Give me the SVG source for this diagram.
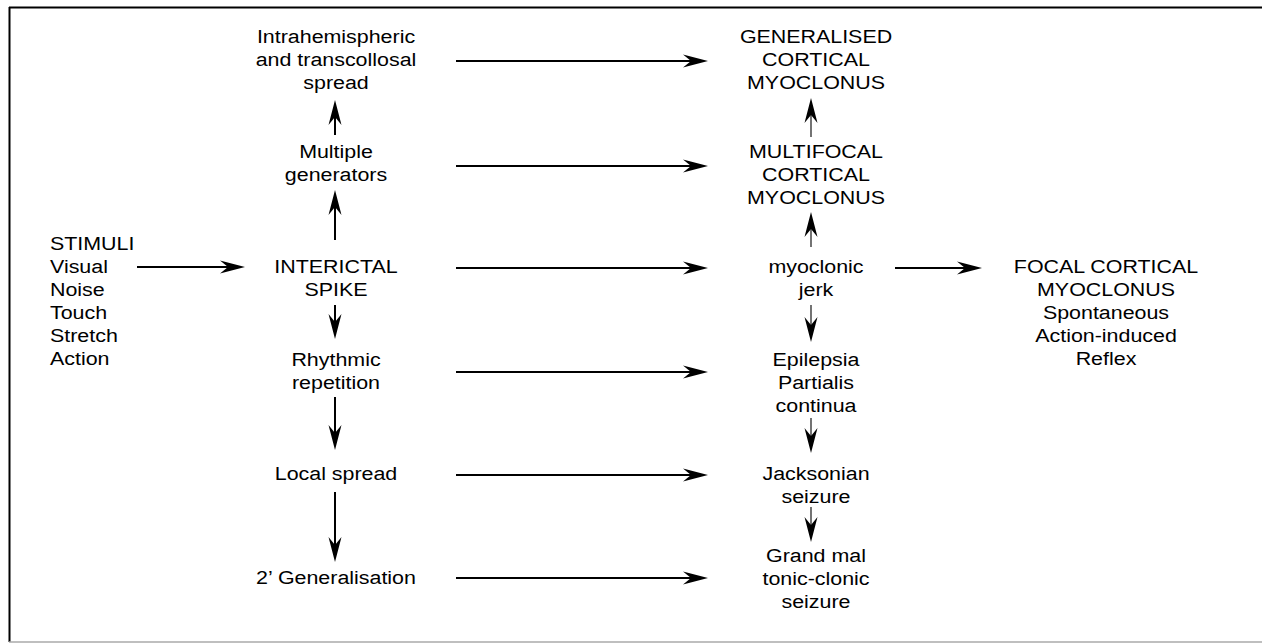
<svg xmlns="http://www.w3.org/2000/svg" width="1262" height="643" viewBox="0 0 1262 643">
<style>
text{font-family:"Liberation Sans",Arial,sans-serif;font-size:18px;fill:#000}
.c{text-anchor:middle}
.s{text-anchor:start}
.thick{stroke:#000;stroke-width:2;fill:none}
.thin{stroke:#000;stroke-width:1.1;fill:none}
</style>
<defs>
<marker id="big" viewBox="-26 -7 27 14" refX="-14" refY="0" markerWidth="27" markerHeight="14" orient="auto" markerUnits="userSpaceOnUse">
<path d="M0,0 L-25,-6.5 L-17,0 L-25,6.5 Z" fill="#000"/>
</marker>
<marker id="small" viewBox="-26 -7 27 14" refX="-14" refY="0" markerWidth="27" markerHeight="14" orient="auto" markerUnits="userSpaceOnUse">
<path d="M0,0 L-25,-6.5 L-17,0 L-25,6.5 Z" fill="#000"/>
</marker>
</defs>
<rect width="1262" height="643" fill="#fff"/>
<g id="frame">
<line x1="9" y1="7.5" x2="1262" y2="7.5" stroke="#000" stroke-width="2"/>
<line x1="9.5" y1="7" x2="9.5" y2="642" stroke="#000" stroke-width="2"/>
<line x1="9" y1="642" x2="1262" y2="642" stroke="#aaa" stroke-width="1.5"/>
</g>
<g id="connectors">
<line class="thick" x1="456" y1="61" x2="694" y2="61" marker-end="url(#big)"/>
<line class="thick" x1="456" y1="166" x2="694" y2="166" marker-end="url(#big)"/>
<line class="thick" x1="456" y1="268" x2="694" y2="268" marker-end="url(#big)"/>
<line class="thick" x1="456" y1="372" x2="694" y2="372" marker-end="url(#big)"/>
<line class="thick" x1="456" y1="475" x2="694" y2="475" marker-end="url(#big)"/>
<line class="thick" x1="456" y1="578" x2="694" y2="578" marker-end="url(#big)"/>
<line class="thick" x1="137" y1="267" x2="231" y2="267" marker-end="url(#big)"/>
<line class="thick" x1="895" y1="268" x2="968" y2="268" marker-end="url(#big)"/>
<line class="thick" x1="335" y1="135" x2="335" y2="114" marker-end="url(#big)"/>
<line class="thick" x1="335" y1="240" x2="335" y2="204" marker-end="url(#big)"/>
<line class="thick" x1="335" y1="305" x2="335" y2="325" marker-end="url(#big)"/>
<line class="thick" x1="335" y1="397" x2="335" y2="436" marker-end="url(#big)"/>
<line class="thick" x1="335" y1="492" x2="335" y2="548" marker-end="url(#big)"/>
<line class="thin" x1="811" y1="137" x2="811" y2="112" marker-end="url(#small)"/>
<line class="thin" x1="811" y1="247" x2="811" y2="226" marker-end="url(#small)"/>
<line class="thin" x1="811" y1="305" x2="811" y2="328" marker-end="url(#small)"/>
<line class="thin" x1="811" y1="418" x2="811" y2="439" marker-end="url(#small)"/>
<line class="thin" x1="811" y1="507" x2="811" y2="528" marker-end="url(#small)"/>
</g>
<g id="stimuli" transform="translate(50 0) scale(1.19 1)">
<text class="s" x="0" y="250">STIMULI</text>
<text class="s" x="0" y="273">Visual</text>
<text class="s" x="0" y="296">Noise</text>
<text class="s" x="0" y="319">Touch</text>
<text class="s" x="0" y="342">Stretch</text>
<text class="s" x="0" y="365">Action</text>
</g>
<g id="intrahemispheric" transform="translate(336 0) scale(1.19 1)">
<text class="c" x="0" y="43">Intrahemispheric</text>
<text class="c" x="0" y="66">and transcollosal</text>
<text class="c" x="0" y="89">spread</text>
</g>
<g id="multiple" transform="translate(336 0) scale(1.19 1)">
<text class="c" x="0" y="158">Multiple</text>
<text class="c" x="0" y="181">generators</text>
</g>
<g id="interictal" transform="translate(336 0) scale(1.19 1)">
<text class="c" x="0" y="273">INTERICTAL</text>
<text class="c" x="0" y="296">SPIKE</text>
</g>
<g id="rhythmic" transform="translate(336 0) scale(1.19 1)">
<text class="c" x="0" y="366">Rhythmic</text>
<text class="c" x="0" y="389">repetition</text>
</g>
<g id="local" transform="translate(336 0) scale(1.19 1)">
<text class="c" x="0" y="480">Local spread</text>
</g>
<g id="secondary" transform="translate(336 0) scale(1.19 1)">
<text class="c" x="0" y="584">2’ Generalisation</text>
</g>
<g id="generalised" transform="translate(816 0) scale(1.19 1)">
<text class="c" x="0" y="43">GENERALISED</text>
<text class="c" x="0" y="66">CORTICAL</text>
<text class="c" x="0" y="89">MYOCLONUS</text>
</g>
<g id="multifocal" transform="translate(816 0) scale(1.19 1)">
<text class="c" x="0" y="158">MULTIFOCAL</text>
<text class="c" x="0" y="181">CORTICAL</text>
<text class="c" x="0" y="204">MYOCLONUS</text>
</g>
<g id="myoclonic" transform="translate(816 0) scale(1.19 1)">
<text class="c" x="0" y="273">myoclonic</text>
<text class="c" x="0" y="296">jerk</text>
</g>
<g id="epilepsia" transform="translate(816 0) scale(1.19 1)">
<text class="c" x="0" y="366">Epilepsia</text>
<text class="c" x="0" y="389">Partialis</text>
<text class="c" x="0" y="412">continua</text>
</g>
<g id="jacksonian" transform="translate(816 0) scale(1.19 1)">
<text class="c" x="0" y="480">Jacksonian</text>
<text class="c" x="0" y="503">seizure</text>
</g>
<g id="grandmal" transform="translate(816 0) scale(1.19 1)">
<text class="c" x="0" y="562">Grand mal</text>
<text class="c" x="0" y="585">tonic-clonic</text>
<text class="c" x="0" y="608">seizure</text>
</g>
<g id="focal" transform="translate(1106 0) scale(1.19 1)">
<text class="c" x="0" y="273">FOCAL CORTICAL</text>
<text class="c" x="0" y="296">MYOCLONUS</text>
<text class="c" x="0" y="319">Spontaneous</text>
<text class="c" x="0" y="342">Action-induced</text>
<text class="c" x="0" y="365">Reflex</text>
</g>
</svg>
